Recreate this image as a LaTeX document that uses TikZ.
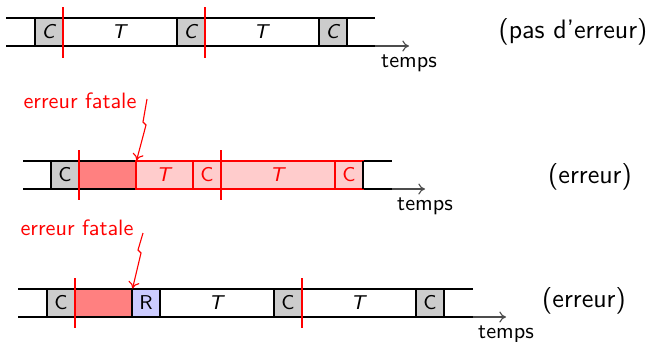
\documentclass[tikz,border=0pt]{standalone}
\usetikzlibrary{arrows.meta}
\renewcommand{\familydefault}{\sfdefault}
\tikzset{
  x=0.45pt, y=-0.45pt,
  seg/.style={line width=0.5pt, minimum height=12.6pt, inner sep=0pt, font=\sffamily\small},
  cw/.style={minimum width=12.6pt},
  tw/.style={minimum width=51.3pt},
  hw/.style={minimum width=25.65pt},
  gbox/.style={seg, draw=black, fill=black!20},
  wbox/.style={seg, draw=black, fill=white},
  pbox/.style={seg, draw=red, fill=red!20, text=red},
  dbox/.style={seg, fill=red!50},
  bbox/.style={seg, draw=black, fill=blue!20},
  tline/.style={line width=0.5pt, black},
  axis/.style={line width=0.5pt, black!70, -{To[length=3pt,width=5pt]}},
  redmark/.style={red, line width=1pt},
  errtxt/.style={text=red, font=\sffamily},
  errarrow/.style={red, line width=0.5pt, -{To[length=3pt,width=5pt]}},
  verdict/.style={font=\sffamily\large},
  tlabel/.style={below, font=\sffamily, text=black, inner sep=3.5pt}
}
\begin{document}
\begin{tikzpicture}
\useasboundingbox (0,0) rectangle (651,341);

% ---------------- Row 1 ----------------
\coordinate (a1s) at (6,18); \coordinate (a1e) at (375,18);
\coordinate (b1s) at (6,46); \coordinate (b1e) at (375,46);
\coordinate (ax1) at (409,46);
\draw[axis] (b1s) -- (ax1) node[tlabel] (temps1) {temps};
\draw[tline] (a1s) -- (a1e);
\draw[tline] (b1s) -- (b1e);
\node[gbox, cw] (r1c1) at (49,32) {\textit{C}};
\node[wbox, tw] (r1t1) at (120,32) {\textit{T}};
\node[gbox, cw] (r1c2) at (191,32) {\textit{C}};
\node[wbox, tw] (r1t2) at (262,32) {\textit{T}};
\node[gbox, cw] (r1c3) at (333,32) {\textit{C}};
\coordinate (m1a) at (63,7); \coordinate (m1b) at (63,58);
\coordinate (m1c) at (205,7); \coordinate (m1d) at (205,58);
\draw[redmark] (m1a) -- (m1b);
\draw[redmark] (m1c) -- (m1d);
\node[verdict] (v1) at (573,32) {(pas d'erreur)};

% ---------------- Row 2 ----------------
\coordinate (a2s) at (23,161); \coordinate (a2e) at (392,161);
\coordinate (b2s) at (23,189); \coordinate (b2e) at (392,189);
\coordinate (ax2) at (425,189);
\node[dbox, hw] (r2d) at (107.5,175) {};
\draw[axis] (b2s) -- (ax2) node[tlabel] (temps2) {temps};
\draw[tline] (a2s) -- (a2e);
\draw[tline] (b2s) -- (b2e);
\node[gbox, cw] (r2c1) at (65,175) {C};
\node[pbox, hw] (r2t1) at (164.5,175) {\textit{T}};
\node[pbox, cw] (r2c2) at (207,175) {C};
\node[pbox, tw] (r2t2) at (278,175) {\textit{T}};
\node[pbox, cw] (r2c3) at (349,175) {C};
\coordinate (e2a) at (363,161); \coordinate (e2b) at (363,189);
\draw[tline] (e2a) -- (e2b);
\coordinate (m2a) at (79,150); \coordinate (m2b) at (79,200);
\coordinate (m2c) at (221,150); \coordinate (m2d) at (221,200);
\draw[redmark] (m2a) -- (m2b);
\draw[redmark] (m2c) -- (m2d);
\node[errtxt] (err2) at (80,101) {erreur fatale};
\coordinate (z2a) at (147,99);
\coordinate (z2b) at (143,122);
\coordinate (z2c) at (146,125);
\draw[errarrow] (z2a) -- (z2b) -- (z2c) -- (r2d.north east);
\node[verdict] (v2) at (590,177) {(erreur)};

% ---------------- Row 3 ----------------
\coordinate (a3s) at (18,289); \coordinate (a3e) at (473,289);
\coordinate (b3s) at (18,317); \coordinate (b3e) at (473,317);
\coordinate (ax3) at (506,317);
\node[dbox, hw] (r3d) at (103.5,303) {};
\draw[axis] (b3s) -- (ax3) node[tlabel] (temps3) {temps};
\draw[tline] (a3s) -- (a3e);
\draw[tline] (b3s) -- (b3e);
\node[gbox, cw] (r3c1) at (61,303) {C};
\node[bbox, cw] (r3r) at (146,303) {R};
\node[wbox, tw] (r3t1) at (217,303) {\textit{T}};
\node[gbox, cw] (r3c2) at (288,303) {C};
\node[wbox, tw] (r3t2) at (359,303) {\textit{T}};
\node[gbox, cw] (r3c3) at (430,303) {C};
\coordinate (m3a) at (75,278); \coordinate (m3b) at (75,328);
\coordinate (m3c) at (302,278); \coordinate (m3d) at (302,328);
\draw[redmark] (m3a) -- (m3b);
\draw[redmark] (m3c) -- (m3d);
\node[errtxt] (err3) at (77,228) {erreur fatale};
\coordinate (z3a) at (143,233);
\coordinate (z3b) at (138,250);
\coordinate (z3c) at (141,253);
\draw[errarrow] (z3a) -- (z3b) -- (z3c) -- (r3d.north east);
\node[verdict] (v3) at (584,301) {(erreur)};
\end{tikzpicture}
\end{document}
